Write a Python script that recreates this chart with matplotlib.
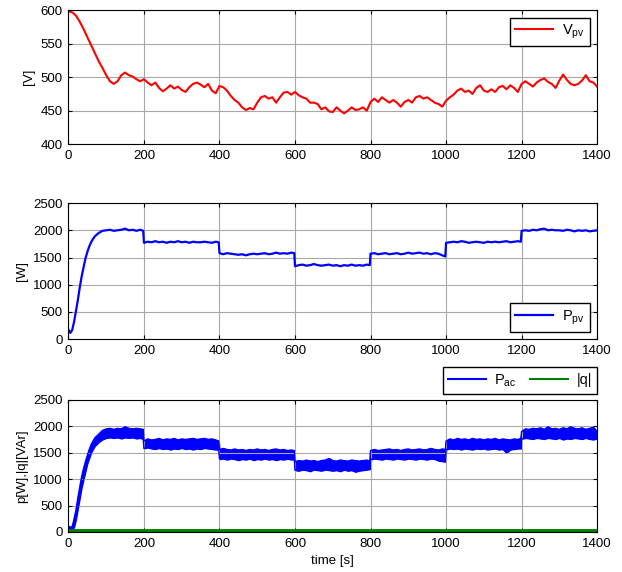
import numpy as np
import matplotlib
matplotlib.use("Agg")
import matplotlib.pyplot as plt
from matplotlib.lines import Line2D

vpv_t = np.arange(0, 1401, 10)
vpv = [598, 597, 592, 583, 572, 560, 548, 536, 524, 514,
       503, 494, 490, 494, 503, 507, 503, 501, 497, 494,
       497, 492, 488, 492, 484, 479, 483, 488, 483, 486,
       481, 478, 485, 490, 492, 489, 485, 490, 480, 476,
       487, 485, 480, 472, 466, 462, 455, 451, 454, 452,
       462, 470, 472, 468, 470, 462, 470, 477, 478, 474,
       478, 473, 470, 468, 462, 462, 460, 452, 455, 449,
       448, 455, 450, 446, 450, 455, 451, 452, 455, 450,
       463, 468, 463, 470, 466, 462, 466, 462, 456, 463,
       466, 462, 470, 472, 468, 470, 466, 462, 460, 456,
       465, 470, 474, 480, 483, 478, 480, 475, 484, 488,
       480, 478, 482, 478, 485, 487, 482, 488, 484, 478,
       490, 494, 490, 486, 492, 496, 498, 493, 490, 484,
       495, 504, 496, 490, 488, 490, 495, 503, 494, 492,
       486]

# time base for the power traces
p_t = [0, 5, 10, 15, 20, 25, 30, 35, 40, 45, 50, 55, 60, 65, 70, 80, 90,
       100, 110, 120, 130, 140, 150, 160, 170, 180, 190, 198,
       200, 210, 220, 230, 240, 250, 260, 270, 280, 290, 300, 310, 320, 330, 340, 350, 360, 370, 380, 390, 398,
       400, 410, 420, 430, 440, 450, 460, 470, 480, 490, 500, 510, 520, 530, 540, 550, 560, 570, 580, 590, 598,
       600, 610, 620, 630, 640, 650, 660, 670, 680, 690, 700, 710, 720, 730, 740, 750, 760, 770, 780, 790, 798,
       800, 810, 820, 830, 840, 850, 860, 870, 880, 890, 900, 910, 920, 930, 940, 950, 960, 970, 980, 990, 998,
       1000, 1010, 1020, 1030, 1040, 1050, 1060, 1070, 1080, 1090, 1100, 1110, 1120, 1130, 1140, 1150, 1160, 1170, 1180, 1190, 1198,
       1200, 1210, 1220, 1230, 1240, 1250, 1260, 1270, 1280, 1290, 1300, 1310, 1320, 1330, 1340, 1350, 1360, 1370, 1380, 1390, 1400]

ppv = [180, 115, 170, 320, 520, 720, 950, 1150, 1320, 1480, 1600, 1700, 1780, 1840, 1890, 1950, 1990,
       2000, 2010, 1990, 2000, 2010, 2030, 2000, 2010, 1990, 2010, 1990,
       1770, 1790, 1780, 1800, 1780, 1790, 1770, 1790, 1780, 1800, 1780, 1790, 1770, 1790, 1780, 1780, 1790, 1780, 1770, 1790, 1780,
       1580, 1560, 1580, 1570, 1560, 1550, 1560, 1540, 1560, 1570, 1560, 1570, 1580, 1560, 1570, 1590, 1570, 1580, 1570, 1590, 1580,
       1340, 1360, 1370, 1350, 1360, 1380, 1360, 1350, 1360, 1370, 1350, 1360, 1340, 1360, 1350, 1370, 1350, 1360, 1350, 1370, 1360,
       1570, 1580, 1560, 1570, 1580, 1560, 1570, 1580, 1560, 1570, 1590, 1570, 1580, 1590, 1570, 1580, 1560, 1580, 1570, 1540, 1520,
       1770, 1780, 1790, 1780, 1800, 1790, 1770, 1780, 1790, 1780, 1770, 1790, 1780, 1790, 1780, 1790, 1800, 1780, 1790, 1800, 1790,
       1990, 2000, 1990, 2010, 2000, 2020, 2030, 2000, 2010, 2000, 2000, 1990, 2010, 2000, 1980, 2000, 1990, 2000, 1980, 1990, 2000]

# Pac noise band: lower / upper envelope
pac_lo = [0, 20, 30, 100, 250, 450, 650, 850, 1000, 1150, 1300, 1400, 1500, 1570, 1630, 1700, 1750,
          1780, 1790, 1780, 1790, 1770, 1790, 1780, 1790, 1770, 1780, 1760,
          1580, 1600, 1580, 1570, 1590, 1570, 1580, 1560, 1580, 1570, 1590, 1570, 1580, 1560, 1580, 1570, 1590, 1580, 1570, 1560, 1560,
          1380, 1390, 1370, 1390, 1380, 1360, 1380, 1370, 1390, 1360, 1380, 1370, 1390, 1370, 1380, 1360, 1380, 1370, 1390, 1370, 1380,
          1170, 1160, 1180, 1170, 1150, 1180, 1170, 1160, 1180, 1170, 1160, 1170, 1150, 1180, 1160, 1170, 1140, 1160, 1170, 1180, 1190,
          1370, 1390, 1380, 1370, 1390, 1380, 1370, 1390, 1380, 1370, 1390, 1380, 1370, 1390, 1380, 1370, 1390, 1380, 1350, 1340, 1330,
          1560, 1580, 1570, 1580, 1560, 1580, 1570, 1560, 1580, 1570, 1580, 1560, 1570, 1580, 1560, 1570, 1500, 1560, 1570, 1580, 1580,
          1760, 1780, 1770, 1760, 1780, 1770, 1760, 1780, 1770, 1760, 1780, 1750, 1770, 1760, 1780, 1770, 1760, 1780, 1760, 1750, 1770]
pac_hi = [110, 90, 100, 250, 420, 650, 850, 1050, 1200, 1330, 1450, 1560, 1650, 1720, 1780, 1850, 1920,
          1950, 1960, 1940, 1960, 1950, 1990, 1960, 1950, 1960, 1950, 1940,
          1720, 1760, 1740, 1750, 1770, 1740, 1760, 1750, 1770, 1740, 1760, 1750, 1760, 1770, 1750, 1760, 1770, 1750, 1760, 1740, 1720,
          1560, 1580, 1560, 1550, 1570, 1550, 1560, 1540, 1560, 1550, 1570, 1550, 1560, 1540, 1560, 1570, 1550, 1560, 1540, 1550, 1540,
          1330, 1350, 1340, 1360, 1340, 1350, 1330, 1350, 1360, 1390, 1350, 1340, 1360, 1350, 1340, 1360, 1350, 1340, 1350, 1360, 1340,
          1540, 1560, 1540, 1550, 1560, 1570, 1550, 1560, 1540, 1560, 1570, 1550, 1560, 1570, 1550, 1560, 1580, 1560, 1550, 1570, 1560,
          1720, 1760, 1740, 1770, 1750, 1760, 1740, 1770, 1750, 1760, 1740, 1760, 1750, 1770, 1740, 1760, 1750, 1740, 1760, 1750, 1770,
          1900, 1950, 1940, 1960, 1950, 1970, 1940, 1990, 1950, 1960, 1940, 1970, 1950, 1990, 1960, 1950, 1970, 1940, 1960, 1980, 1900]

q_t = [0, 1400]
q_v = [12, 12]

xticks = [0, 200, 400, 600, 800, 1000, 1200, 1400]

plt.rcParams.update({'font.family': 'Liberation Sans', 'font.size': 9.5,
                     'mathtext.fontset': 'custom', 'mathtext.rm': 'Liberation Sans',
                     'mathtext.it': 'Liberation Sans'})

fig = plt.figure(figsize=(6.22, 5.72), dpi=100)
ax1 = fig.add_axes([0.110, 0.748, 0.850, 0.234])
ax2 = fig.add_axes([0.110, 0.407, 0.850, 0.238])
ax3 = fig.add_axes([0.110, 0.070, 0.850, 0.231])

leg_kw = dict(fancybox=False, edgecolor='black', framealpha=1, fontsize=10.5,
              handlelength=2.6, handletextpad=0.6, borderpad=0.35)

ax1.plot(vpv_t, vpv, color='red', linewidth=1.5, label=r'V$_{\mathrm{pv}}$')
ax1.set_ylim(400, 600)
ax1.set_yticks([400, 450, 500, 550, 600])
ax1.set_ylabel('[V]')
ax1.legend(loc='upper right', borderaxespad=0.5, **leg_kw)

ax2.plot(p_t, ppv, color='blue', linewidth=1.6, label=r'P$_{\mathrm{pv}}$')
ax2.set_ylim(0, 2500)
ax2.set_yticks(range(0, 2501, 500))
ax2.set_ylabel('[W]')
ax2.legend(loc='lower right', borderaxespad=0.5, **leg_kw)

ax3.fill_between(p_t, pac_lo, pac_hi, color='blue', linewidth=1.0)
ax3.plot(p_t, pac_lo, color='blue', linewidth=1.0)
ax3.plot(p_t, pac_hi, color='blue', linewidth=1.0)
ax3.plot(q_t, q_v, color='#008000', linewidth=3.5)
handles = [Line2D([], [], color='blue', linewidth=1.5),
           Line2D([], [], color='#008000', linewidth=1.5)]
ax3.set_ylim(0, 2500)
ax3.set_yticks(range(0, 2501, 500))
ax3.set_ylabel('p[W],|q|[VAr]')
ax3.set_xlabel('time [s]')
ax3.legend(handles, [r'P$_{\mathrm{ac}}$', '|q|'], loc='lower right',
           bbox_to_anchor=(1.0, 1.045), borderaxespad=0, ncol=2, columnspacing=0.9,
           **leg_kw)

for ax in (ax1, ax2, ax3):
    ax.set_xlim(0, 1400)
    ax.set_xticks(xticks)
    ax.grid(True, color='#a8a8a8', linewidth=0.8)
    ax.tick_params(direction='in', top=True, right=True, length=3, pad=4)
    for s in ax.spines.values():
        s.set_linewidth(0.8)

fig.savefig('out.png', dpi=100)
